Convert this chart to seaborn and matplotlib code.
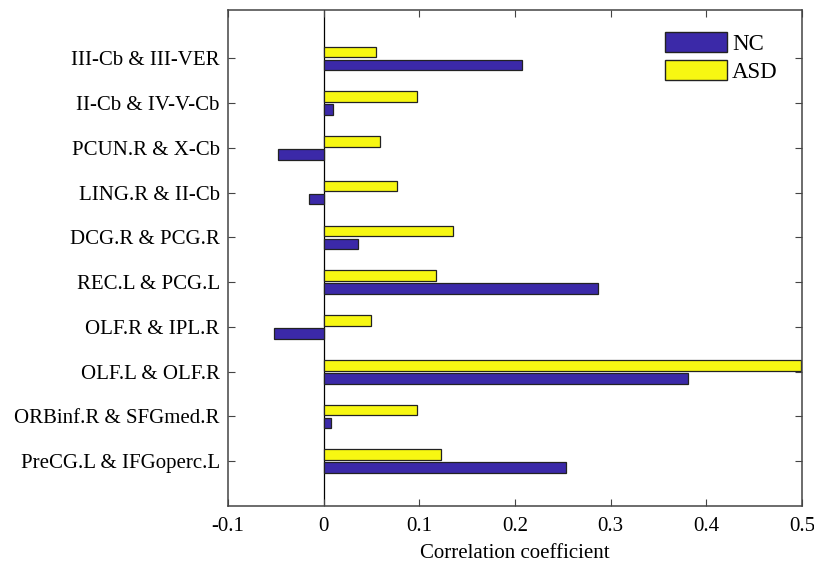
import pandas as pd
import matplotlib
matplotlib.use("Agg")
import matplotlib.pyplot as plt
from matplotlib.patches import Patch
import seaborn as sns

# Connection pairs, top to bottom
pairs = ['III-Cb & III-VER', 'II-Cb & IV-V-Cb', 'PCUN.R & X-Cb', 'LING.R & II-Cb',
         'DCG.R & PCG.R', 'REC.L & PCG.L', 'OLF.R & IPL.R', 'OLF.L & OLF.R',
         'ORBinf.R & SFGmed.R', 'PreCG.L & IFGoperc.L']
nc_vals = [0.207, 0.010, -0.048, -0.015, 0.036, 0.287, -0.052, 0.381, 0.008, 0.253]
asd_vals = [0.055, 0.098, 0.059, 0.077, 0.135, 0.117, 0.049, 0.499, 0.098, 0.123]
x_ticks = [-0.1, 0, 0.1, 0.2, 0.3, 0.4, 0.5]
x_ticklabels = ['-0.1', '0', '0.1', '0.2', '0.3', '0.4', '0.5']

nc_color = '#3b29a8'
asd_color = '#f7f712'

data = pd.DataFrame({
    'Pair': pairs * 2,
    'Correlation': asd_vals + nc_vals,
    'Group': ['ASD'] * len(pairs) + ['NC'] * len(pairs),
})

sns.set_style('white')
plt.rcParams['font.family'] = ['Liberation Serif', 'DejaVu Serif']
plt.rcParams['xtick.direction'] = 'in'
plt.rcParams['ytick.direction'] = 'in'
plt.rcParams['text.color'] = 'black'
plt.rcParams['xtick.labelcolor'] = 'black'
plt.rcParams['ytick.labelcolor'] = 'black'
plt.rcParams['axes.labelcolor'] = 'black'

fig = plt.figure(figsize=(8.14, 5.71), dpi=100)
ax = fig.add_axes([0.2801, 0.1138, 0.7052, 0.8687])

sns.barplot(data=data, y='Pair', x='Correlation', hue='Group', order=pairs,
            hue_order=['ASD', 'NC'], palette={'ASD': asd_color, 'NC': nc_color},
            orient='h', width=0.58, gap=0.18, edgecolor='#222222', linewidth=0.9,
            saturation=1, legend=False, ax=ax)

ax.axvline(0, color='black', linewidth=0.9, zorder=0.5)
ax.set_xlim(-0.1, 0.5)
ax.set_ylim(10, -1.08)
ax.set_xticks(x_ticks)
ax.set_xticklabels(x_ticklabels)
ax.set_xlabel('Correlation coefficient', fontsize=15, labelpad=6)
ax.set_ylabel('')
ax.tick_params(axis='both', labelsize=15, length=5, width=0.8, color='#444444',
               top=True, right=True, bottom=True, left=True)
ax.tick_params(axis='x', pad=8)
ax.tick_params(axis='y', pad=6)
for s in ax.spines.values():
    s.set_visible(True)
    s.set_color('#444444')
    s.set_linewidth(1.1)

handles = [Patch(facecolor=nc_color, edgecolor='#222222', label='NC'),
           Patch(facecolor=asd_color, edgecolor='#222222', label='ASD')]
ax.legend(handles=handles, loc='upper left', bbox_to_anchor=(0.742, 0.978),
          frameon=False, fontsize=16.5, handlelength=2.7, handleheight=0.95,
          handletextpad=0.2, labelspacing=0.22, borderpad=0)

fig.savefig('out.png', dpi=100)
